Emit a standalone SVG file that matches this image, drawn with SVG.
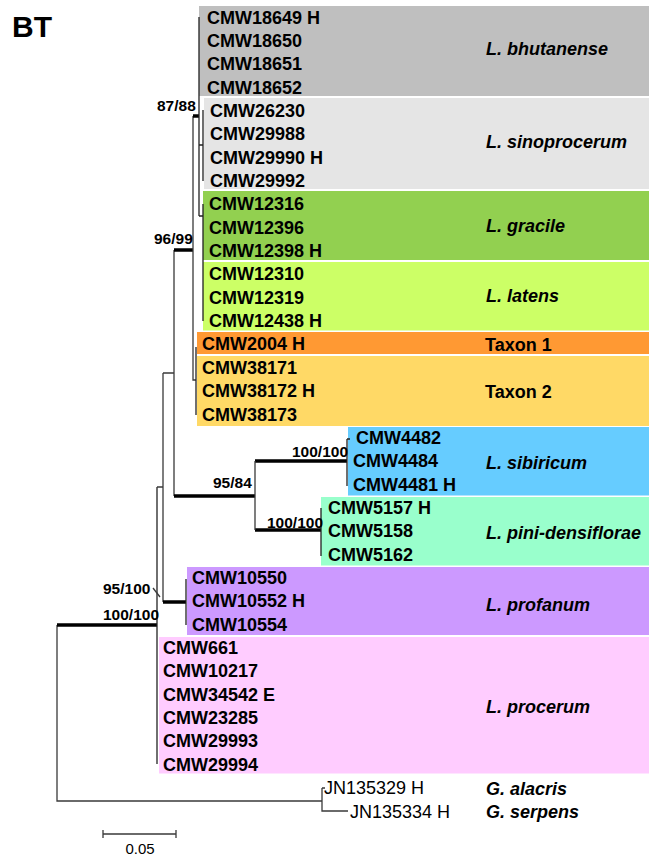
<svg xmlns="http://www.w3.org/2000/svg" width="661" height="858" viewBox="0 0 661 858">
<style>
text{font-family:"Liberation Sans",Arial,sans-serif;fill:#000}
.tip{font-size:18px;font-weight:bold}
.sp{font-size:18px;font-weight:bold;font-style:italic}
.tx{font-size:18px;font-weight:bold}
.og{font-size:18px}
.bs{font-size:15.5px;font-weight:bold}
.thin{stroke:#3a3a3a;stroke-width:1.3;fill:none}
.thick{stroke:#000;stroke-width:3.5;fill:none}
.br{stroke:#222;stroke-width:1.3;fill:none}
</style>
<rect width="661" height="858" fill="#fff"/>
<text x="12" y="37" style="font-size:30px;font-weight:bold">BT</text>

<g id="clade-bhutanense">
<rect x="199" y="6" width="450" height="90" fill="#bfbfbf"/>
<text class="tip" x="207" y="24">CMW18649 H</text>
<text class="tip" x="207" y="47">CMW18650</text>
<text class="tip" x="207" y="70">CMW18651</text>
<text class="tip" x="207" y="94">CMW18652</text>
<text class="sp" x="486" y="55">L. bhutanense</text>
</g>
<g id="clade-sinoprocerum">
<rect x="204" y="98" width="445" height="91" fill="#e5e5e5"/>
<text class="tip" x="210" y="117">CMW26230</text>
<text class="tip" x="210" y="140">CMW29988</text>
<text class="tip" x="210" y="164">CMW29990 H</text>
<text class="tip" x="210" y="187">CMW29992</text>
<text class="sp" x="486" y="148">L. sinoprocerum</text>
</g>
<g id="clade-gracile">
<rect x="203" y="191" width="446" height="69" fill="#92d050"/>
<text class="tip" x="209" y="210">CMW12316</text>
<text class="tip" x="209" y="234">CMW12396</text>
<text class="tip" x="209" y="257">CMW12398 H</text>
<text class="sp" x="486" y="232">L. gracile</text>
</g>
<g id="clade-latens">
<rect x="203" y="262" width="446" height="68.5" fill="#ccff66"/>
<text class="tip" x="209" y="280">CMW12310</text>
<text class="tip" x="209" y="304">CMW12319</text>
<text class="tip" x="209" y="327">CMW12438 H</text>
<text class="sp" x="486" y="302">L. latens</text>
</g>
<g id="clade-taxon1">
<rect x="197" y="332" width="452" height="22" fill="#ff9933"/>
<text class="tip" x="202" y="350">CMW2004 H</text>
<text class="tx" x="485" y="351">Taxon 1</text>
</g>
<g id="clade-taxon2">
<rect x="197" y="356" width="452" height="70" fill="#ffd966"/>
<text class="tip" x="202" y="374">CMW38171</text>
<text class="tip" x="202" y="397">CMW38172 H</text>
<text class="tip" x="202" y="421">CMW38173</text>
<text class="tx" x="485" y="398">Taxon 2</text>
</g>
<g id="clade-sibiricum">
<rect x="348" y="427" width="301" height="68.5" fill="#66ccff"/>
<text class="tip" x="356" y="444">CMW4482</text>
<text class="tip" x="353" y="467">CMW4484</text>
<text class="tip" x="353" y="491">CMW4481 H</text>
<text class="sp" x="486" y="469">L. sibiricum</text>
</g>
<g id="clade-pini-densiflorae">
<rect x="321" y="497" width="328" height="68.5" fill="#99ffcc"/>
<text class="tip" x="328" y="514">CMW5157 H</text>
<text class="tip" x="328" y="537">CMW5158</text>
<text class="tip" x="328" y="561">CMW5162</text>
<text class="sp" x="486" y="539">L. pini-densiflorae</text>
</g>
<g id="clade-profanum">
<rect x="187" y="567" width="462" height="68" fill="#cc99ff"/>
<text class="tip" x="192" y="584">CMW10550</text>
<text class="tip" x="192" y="607">CMW10552 H</text>
<text class="tip" x="192" y="631">CMW10554</text>
<text class="sp" x="486" y="611">L. profanum</text>
</g>
<g id="clade-procerum">
<rect x="159" y="637" width="490" height="136.5" fill="#ffccff"/>
<text class="tip" x="163" y="654">CMW661</text>
<text class="tip" x="163" y="677">CMW10217</text>
<text class="tip" x="163" y="701">CMW34542 E</text>
<text class="tip" x="163" y="724">CMW23285</text>
<text class="tip" x="163" y="747">CMW29993</text>
<text class="tip" x="163" y="771">CMW29994</text>
<text class="sp" x="486" y="713">L. procerum</text>
</g>
<g id="outgroup-alacris">
<text class="og" x="324" y="794">JN135329 H</text>
<text class="sp" x="486" y="795">G. alacris</text>
</g>
<g id="outgroup-serpens">
<text class="og" x="350" y="818">JN135334 H</text>
<text class="sp" x="486" y="818">G. serpens</text>
</g>

<g id="connectors">
<path class="thin" d="M57,625V801H322M322,788V811H348M322,788H325"/>
<path class="thick" d="M57,625H157"/>
<path class="br" d="M157,487V764"/>
<path class="thin" d="M157,487H163M163,373V602M163,373H174M174,250V496"/>
<path class="thick" d="M163,602H186"/>
<path class="br" d="M186,579V625"/>
<path class="thin" d="M153,588L160,597"/>
<path class="thick" d="M174,250H193M174,496H255M255,461H347M255,530H321"/>
<path class="thin" d="M255,461V530"/>
<path class="br" d="M347,439V486M347,439H350M321,508V556"/>
<path class="thin" d="M193,116V380H196"/>
<path class="br" d="M196,347V415"/>
<path class="thick" d="M193,116H199"/>
<path class="br" d="M199,17V216M199,145H203M203,110V181M199,216H203M203,204V321"/>
</g>

<g id="support-labels">
<text class="bs" x="157" y="111">87/88</text>
<text class="bs" x="154" y="244">96/99</text>
<text class="bs" x="213" y="488">95/84</text>
<text class="bs" x="292" y="457">100/100</text>
<text class="bs" x="267" y="528">100/100</text>
<text class="bs" x="103" y="594">95/100</text>
<text class="bs" x="103" y="620">100/100</text>
</g>

<g id="scale-bar">
<path class="thin" d="M103,834H176M103,830V838M176,830V838"/>
<text x="140" y="854" text-anchor="middle" style="font-size:15px">0.05</text>
</g>
</svg>
